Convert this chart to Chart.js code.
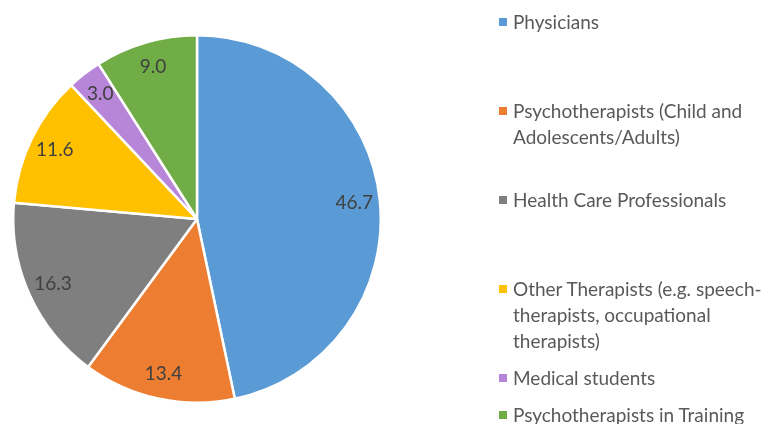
<!DOCTYPE html>
<html>
<head>
<meta charset="utf-8">
<script src="https://cdn.jsdelivr.net/npm/chart.js@4/dist/chart.umd.min.js"></script>
<style>
  html, body { margin: 0; padding: 0; background: #fff; }
  body { width: 771px; height: 424px; position: relative; overflow: hidden; font-family: Lato, "Open Sans", sans-serif; }
  #wrap { position: absolute; left: 12px; top: 33px; width: 370px; height: 372px; }
  #legend { position: absolute; left: 0; top: 0; width: 771px; height: 424px; pointer-events: none; }
  .item { position: absolute; left: 499px; color: #595959; font-size: 19px; line-height: 26px; white-space: nowrap; }
  .sw { position: absolute; left: 0; top: 9px; width: 8px; height: 8px; }
  .txt { position: absolute; left: 14px; top: 0; }
</style>
</head>
<body>
<div id="wrap"><canvas id="c"></canvas></div>
<div id="legend"></div>
<script>
const categories = [
  "Physicians",
  "Psychotherapists (Child and Adolescents/Adults)",
  "Health Care Professionals",
  "Other Therapists (e.g. speech-therapists, occupational therapists)",
  "Medical students",
  "Psychotherapists in Training"
];
const legendLines = [
  ["Physicians"],
  ["Psychotherapists (Child and", "Adolescents/Adults)"],
  ["Health Care Professionals"],
  ["Other Therapists (e.g. speech-", "therapists, occupational", "therapists)"],
  ["Medical students"],
  ["Psychotherapists in Training"]
];
const values = [46.7, 13.4, 16.3, 11.6, 3.0, 9.0];
const colors = ["#5B9BD5", "#ED7D31", "#7F7F7F", "#FFC000", "#B786D9", "#70AD47"];
const legendTops = [9, 98, 187, 276, 365, 402];

const labelPlugin = {
  id: 'sliceLabels',
  afterDatasetsDraw(chart) {
    const ctx = chart.ctx;
    const meta = chart.getDatasetMeta(0);
    ctx.save();
    ctx.font = '19px Lato, "Open Sans", sans-serif';
    ctx.fillStyle = '#404040';
    ctx.textAlign = 'center';
    ctx.textBaseline = 'middle';
    meta.data.forEach((arc, i) => {
      const p = arc.getProps(['x', 'y', 'startAngle', 'endAngle', 'outerRadius'], true);
      const mid = (p.startAngle + p.endAngle) / 2;
      const r = p.outerRadius * 0.86;
      ctx.fillText(values[i].toFixed(1), p.x + Math.cos(mid) * r, p.y + Math.sin(mid) * r);
    });
    ctx.restore();
  }
};

new Chart(document.getElementById('c'), {
  type: 'pie',
  data: {
    labels: categories,
    datasets: [{
      data: values,
      backgroundColor: colors,
      borderColor: '#ffffff',
      borderWidth: 2.5
    }]
  },
  options: {
    responsive: true,
    maintainAspectRatio: false,
    animation: false,
    layout: { padding: 0 },
    plugins: { legend: { display: false }, tooltip: { enabled: false } }
  },
  plugins: [labelPlugin]
});

const lg = document.getElementById('legend');
categories.forEach((c, i) => {
  const d = document.createElement('div');
  d.className = 'item';
  d.style.top = legendTops[i] + 'px';
  const s = document.createElement('div');
  s.className = 'sw';
  s.style.background = colors[i];
  const t = document.createElement('div');
  t.className = 'txt';
  t.innerHTML = legendLines[i].join('<br>');
  d.appendChild(s); d.appendChild(t);
  lg.appendChild(d);
});
</script>
</body>
</html>
